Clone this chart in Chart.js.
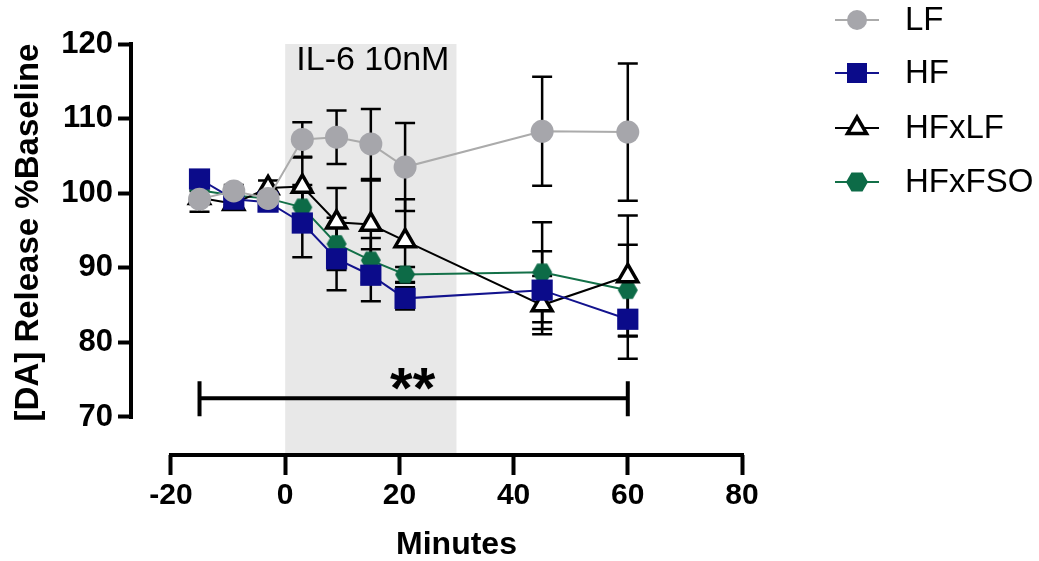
<!DOCTYPE html>
<html><head><meta charset="utf-8">
<script src="https://cdn.jsdelivr.net/npm/chart.js@4.4.1/dist/chart.umd.min.js"></script>
<style>html,body{margin:0;padding:0;background:#fff;}#wrap{width:1039px;height:561px;}</style>
</head><body><div id="wrap"><canvas id="c" width="1039" height="561"></canvas></div>
<script>
// ---- data ----
const minutes = [-15, -9, -3, 3, 9, 15, 21, 45, 60];
const seriesNames = ['LF', 'HF', 'HFxLF', 'HFxFSO'];
const lfMean     = [99.2, 100.3, 99.3, 107.2, 107.5, 106.6, 103.5, 108.3, 108.2];
const lfSem      = [1.7, 0.8, 0.8, 2.3, 3.6, 4.7, 5.9, 7.3, 9.2];
const hfMean     = [101.9, 99.2, 98.8, 96.0, 91.2, 89.0, 85.9, 87.0, 83.1];
const hfSem      = [0.8, 0.8, 0.8, 4.6, 4.2, 3.5, 1.5, 5.2, 5.3];
const hfxlfMean  = [99.4, 98.6, 100.7, 100.9, 96.1, 95.8, 93.6, 85.0, 88.9];
const hfxlfSem   = [0.9, 0.8, 1.0, 3.9, 4.6, 5.9, 5.6, 3.9, 8.1];
const hfxfsoMean = [100.4, 99.7, 99.3, 98.1, 93.2, 91.0, 89.1, 89.4, 87.0];
const hfxfsoSem  = [0.8, 0.7, 0.7, 3.0, 3.5, 3.0, 1.0, 6.7, 6.1];
const xTicks = [-20, 0, 20, 40, 60, 80];
const yTicks = [70, 80, 90, 100, 110, 120];
const xTitle = 'Minutes';
const yTitle = '[DA] Release %Baseline';
const stimWindow = [0, 30];
const stimLabel = 'IL-6 10nM';
const sigBracket = [-15, 60];
const sigLevel = 72.5;
const sigLabel = '**';

// ---- styles ----
const FAM = "'Liberation Sans', Arial, Helvetica, sans-serif";
const colors = { LF: '#a6a6ab', HF: '#0b0b8a', HFxLF: '#000000', HFxFSO: '#0d6b47' };
const lineColors = { LF: '#ababab', HF: '#13138e', HFxLF: '#000000', HFxFSO: '#137048' };

function hexPath(ctx, x, y, R) {
  ctx.beginPath();
  for (let k = 0; k < 6; k++) {
    const a = Math.PI / 3 * k;
    const px = x + R * Math.cos(a), py = y + R * Math.sin(a);
    if (k === 0) ctx.moveTo(px, py); else ctx.lineTo(px, py);
  }
  ctx.closePath();
}
function makeHex(R, color) {
  const c = document.createElement('canvas');
  c.width = 2 * R + 2; c.height = Math.ceil(Math.sqrt(3) * R) + 2;
  const g = c.getContext('2d');
  g.fillStyle = color;
  hexPath(g, c.width / 2, c.height / 2, R);
  g.fill();
  return c;
}
const hexPoint = makeHex(10, colors.HFxFSO);

const means = [lfMean, hfMean, hfxlfMean, hfxfsoMean];
const sems = [lfSem, hfSem, hfxlfSem, hfxfsoSem];

const datasets = [
  { label: seriesNames[0], data: minutes.map((m, i) => ({ x: m, y: lfMean[i] })), borderColor: lineColors.LF, borderWidth: 2,
    pointStyle: 'circle', pointRadius: 11.5, pointBackgroundColor: colors.LF, pointBorderWidth: 0, order: 0 },
  { label: seriesNames[1], data: minutes.map((m, i) => ({ x: m, y: hfMean[i] })), borderColor: lineColors.HF, borderWidth: 2,
    pointStyle: 'rect', pointRadius: 15, pointBackgroundColor: colors.HF, pointBorderWidth: 0, order: 1 },
  { label: seriesNames[2], data: minutes.map((m, i) => ({ x: m, y: hfxlfMean[i] })), borderColor: lineColors.HFxLF, borderWidth: 2,
    pointStyle: 'triangle', pointRadius: 11.5, pointBackgroundColor: '#ffffff', pointBorderColor: '#000', pointBorderWidth: 3.5, order: 2 },
  { label: seriesNames[3], data: minutes.map((m, i) => ({ x: m, y: hfxfsoMean[i] })), borderColor: lineColors.HFxFSO, borderWidth: 2,
    pointStyle: hexPoint, pointRadius: 10, order: 3 }
];

const decor = {
  id: 'decor',
  beforeDatasetsDraw(chart) {
    const { ctx, chartArea, scales: { x, y } } = chart;
    ctx.save();
    // stimulus shading
    const x0 = x.getPixelForValue(stimWindow[0]), x1 = x.getPixelForValue(stimWindow[1]);
    const yTop = y.getPixelForValue(yTicks[yTicks.length - 1]);
    ctx.fillStyle = '#e8e8e8';
    ctx.fillRect(x0, yTop, x1 - x0, chartArea.bottom - yTop);
    ctx.fillStyle = '#000';
    ctx.font = `34px ${FAM}`;
    ctx.textAlign = 'center'; ctx.textBaseline = 'middle';
    ctx.fillText(stimLabel, (x0 + x1) / 2 + 2, yTop + 17);
    // significance bracket
    const bx0 = x.getPixelForValue(sigBracket[0]), bx1 = x.getPixelForValue(sigBracket[1]);
    const by = y.getPixelForValue(sigLevel);
    ctx.strokeStyle = '#000'; ctx.lineWidth = 4; ctx.lineCap = 'butt';
    ctx.beginPath();
    ctx.moveTo(bx0, by); ctx.lineTo(bx1, by);
    ctx.moveTo(bx0, by - 17); ctx.lineTo(bx0, by + 18);
    ctx.moveTo(bx1, by - 17); ctx.lineTo(bx1, by + 18);
    ctx.stroke();
    ctx.font = `bold 58px ${FAM}`;
    ctx.textBaseline = 'alphabetic';
    ctx.fillText(sigLabel, x.getPixelForValue((sigBracket[0] + sigBracket[1]) / 2) - 1, by + 10);
    // error bars
    ctx.lineWidth = 2.5;
    ctx.strokeStyle = '#000';
    means.forEach((mArr, si) => {
      mArr.forEach((m, j) => {
        const px = x.getPixelForValue(minutes[j]);
        const pt = y.getPixelForValue(m + sems[si][j]);
        const pb = y.getPixelForValue(m - sems[si][j]);
        ctx.beginPath();
        ctx.moveTo(px, pt); ctx.lineTo(px, pb);
        ctx.moveTo(px - 10, pt); ctx.lineTo(px + 10, pt);
        ctx.moveTo(px - 10, pb); ctx.lineTo(px + 10, pb);
        ctx.stroke();
      });
    });
    ctx.restore();
  },
  afterDraw(chart) {
    const { ctx, chartArea, scales: { x, y } } = chart;
    ctx.save();
    ctx.strokeStyle = '#000'; ctx.lineWidth = 4;
    // y axis line
    const ax = chartArea.left;
    const yA = y.getPixelForValue(yTicks[yTicks.length - 1]), yB = y.getPixelForValue(yTicks[0]);
    ctx.beginPath();
    ctx.moveTo(ax, yA - 2);
    ctx.lineTo(ax, yB + 2);
    ctx.stroke();
    // x axis line
    const ay = chartArea.bottom;
    const xA = x.getPixelForValue(xTicks[0]), xB = x.getPixelForValue(xTicks[xTicks.length - 1]);
    ctx.beginPath();
    ctx.moveTo(xA - 2, ay);
    ctx.lineTo(xB + 2, ay);
    ctx.stroke();
    // axis titles (centred on the drawn axis spans)
    ctx.fillStyle = '#000';
    ctx.textAlign = 'center'; ctx.textBaseline = 'middle';
    ctx.font = `bold 32px ${FAM}`;
    ctx.fillText(xTitle, (xA + xB) / 2, 545);
    ctx.save();
    ctx.translate(29, (yA + yB) / 2 + 2);
    ctx.rotate(-Math.PI / 2);
    ctx.font = `bold 33px ${FAM}`;
    ctx.fillText(yTitle, 0, 0);
    ctx.restore();
    // legend
    const rows = [20, 73, 128, 182];
    chart.data.datasets.forEach((ds, i) => {
      const cy = rows[i];
      ctx.strokeStyle = ds.borderColor; ctx.lineWidth = 2;
      ctx.beginPath(); ctx.moveTo(835, cy); ctx.lineTo(879, cy); ctx.stroke();
      const cx = 857;
      if (ds.pointStyle === 'circle') {
        ctx.fillStyle = ds.pointBackgroundColor;
        ctx.beginPath(); ctx.arc(cx, cy, 10, 0, Math.PI * 2); ctx.fill();
      } else if (ds.pointStyle === 'rect') {
        ctx.fillStyle = ds.pointBackgroundColor;
        ctx.fillRect(cx - 10, cy - 10, 20, 20);
      } else if (ds.pointStyle === 'triangle') {
        const r = 11;
        ctx.fillStyle = '#fff'; ctx.strokeStyle = '#000'; ctx.lineWidth = 3.5;
        ctx.beginPath();
        ctx.moveTo(cx, cy - r);
        ctx.lineTo(cx + r * Math.sin(2 * Math.PI / 3), cy - r * Math.cos(2 * Math.PI / 3));
        ctx.lineTo(cx + r * Math.sin(4 * Math.PI / 3), cy - r * Math.cos(4 * Math.PI / 3));
        ctx.closePath(); ctx.fill(); ctx.stroke();
      } else {
        ctx.fillStyle = colors.HFxFSO;
        hexPath(ctx, cx, cy, 11); ctx.fill();
      }
      ctx.fillStyle = '#000';
      ctx.font = `33px ${FAM}`;
      ctx.textAlign = 'left'; ctx.textBaseline = 'middle';
      ctx.fillText(ds.label, 905, cy + 1);
    });
    ctx.restore();
  }
};

new Chart(document.getElementById('c'), {
  type: 'line',
  data: { datasets },
  plugins: [decor],
  options: {
    responsive: false,
    animation: false,
    devicePixelRatio: 1,
    layout: { padding: { top: 44, right: 297, bottom: 0, left: 0 } },
    plugins: { legend: { display: false }, tooltip: { enabled: false } },
    elements: { line: { tension: 0 } },
    scales: {
      x: {
        type: 'linear', min: -27, max: 80,
        afterBuildTicks: s => { s.ticks = xTicks.map(v => ({ value: v })); },
        afterFit: s => { s.height = 106; },
        grid: { drawOnChartArea: false, drawTicks: true, tickLength: 20, tickWidth: 4, tickColor: '#000' },
        border: { display: false },
        ticks: { color: '#000', font: { family: FAM, size: 30, weight: 'bold' }, padding: 3, maxRotation: 0, autoSkip: false },
        title: { display: false }
      },
      y: {
        type: 'linear', min: 64.9, max: 120,
        afterBuildTicks: s => { s.ticks = yTicks.map(v => ({ value: v })); },
        afterFit: s => { s.width = 131; },
        grid: { drawOnChartArea: false, drawTicks: true, tickLength: 13, tickWidth: 4, tickColor: '#000' },
        border: { display: false },
        ticks: { color: '#000', font: { family: FAM, size: 31, weight: 'bold' }, padding: 5, autoSkip: false },
        title: { display: false }
      }
    }
  }
});
</script>
</body></html>
